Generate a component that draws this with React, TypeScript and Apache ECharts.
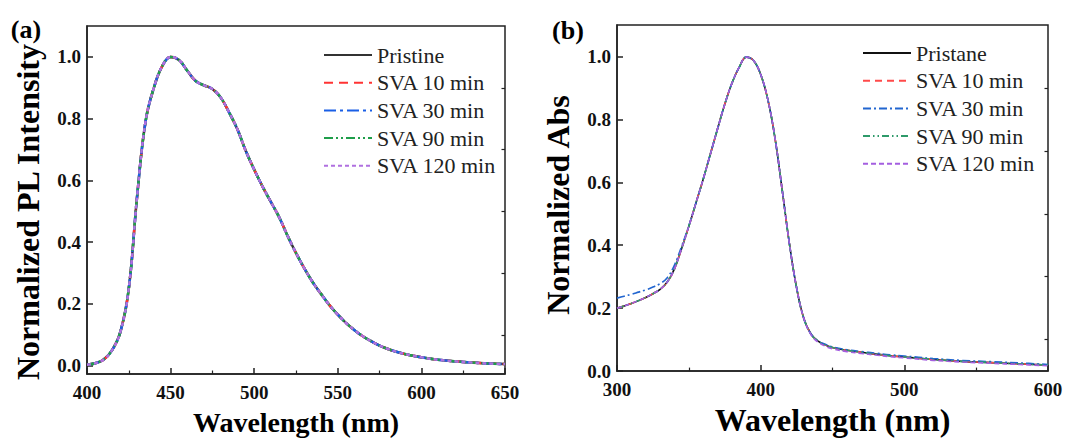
import React, { useEffect, useRef } from "react";
import * as echarts from "echarts";

// ---------- (a) PL spectra ----------
const plWavelength = [400, 405, 410, 415, 420, 425, 430, 435, 440, 445, 450, 455, 460, 465, 470, 475, 480, 485, 490, 495, 500, 505, 510, 515, 520, 525, 530, 535, 540, 545, 550, 555, 560, 565, 570, 575, 580, 585, 590, 595, 600, 610, 620, 630, 640, 650];
const plIntensity = [0.003, 0.008, 0.02, 0.05, 0.11, 0.25, 0.55, 0.79, 0.9, 0.97, 1.0, 0.99, 0.955, 0.922, 0.908, 0.896, 0.868, 0.82, 0.765, 0.695, 0.635, 0.58, 0.53, 0.48, 0.42, 0.365, 0.315, 0.27, 0.232, 0.196, 0.165, 0.138, 0.115, 0.095, 0.079, 0.065, 0.054, 0.045, 0.038, 0.032, 0.027, 0.019, 0.014, 0.01, 0.007, 0.005];
// all annealing times overlap the pristine film within reading accuracy
const plPristine = plIntensity;
const plSva10 = plIntensity;
const plSva30 = plIntensity;
const plSva90 = plIntensity;
const plSva120 = plIntensity;

// ---------- (b) absorption spectra ----------
const absWavelength = [300, 305, 310, 315, 320, 325, 330, 335, 340, 345, 350, 355, 360, 365, 370, 375, 380, 385, 390, 395, 400, 405, 410, 415, 420, 425, 430, 435, 440, 445, 450, 460, 470, 480, 490, 500, 520, 540, 560, 580, 600];
const absPristine = [0.2, 0.207, 0.215, 0.224, 0.234, 0.246, 0.26, 0.283, 0.325, 0.39, 0.46, 0.535, 0.61, 0.69, 0.77, 0.848, 0.915, 0.965, 0.998, 0.987, 0.943, 0.863, 0.74, 0.575, 0.405, 0.265, 0.168, 0.118, 0.095, 0.083, 0.075, 0.066, 0.06, 0.054, 0.049, 0.045, 0.037, 0.031, 0.027, 0.023, 0.019];
const absSva10 = absPristine;
const absSva30 = [0.232, 0.238, 0.244, 0.251, 0.258, 0.267, 0.278, 0.297, 0.337, 0.397, 0.462, 0.535, 0.61, 0.69, 0.77, 0.848, 0.915, 0.965, 0.998, 0.987, 0.943, 0.863, 0.74, 0.575, 0.405, 0.265, 0.168, 0.118, 0.096, 0.085, 0.077, 0.068, 0.062, 0.057, 0.052, 0.048, 0.04, 0.034, 0.03, 0.026, 0.021];
const absSva90 = absPristine;
const absSva120 = [0.2, 0.207, 0.215, 0.224, 0.234, 0.246, 0.26, 0.283, 0.325, 0.39, 0.46, 0.535, 0.61, 0.69, 0.77, 0.848, 0.915, 0.965, 0.998, 0.987, 0.943, 0.863, 0.74, 0.575, 0.405, 0.265, 0.168, 0.116, 0.092, 0.079, 0.071, 0.062, 0.056, 0.051, 0.046, 0.042, 0.034, 0.029, 0.025, 0.021, 0.017];

// ---------- names & ticks ----------
const plNames = ["Pristine", "SVA 10 min", "SVA 30 min", "SVA 90 min", "SVA 120 min"];
const absNames = ["Pristane", "SVA 10 min", "SVA 30 min", "SVA 90 min", "SVA 120 min"];
const yMajorTicks = [0, 0.2, 0.4, 0.6, 0.8, 1.0];
const yMinorTicks = [0.1, 0.3, 0.5, 0.7, 0.9];
const xTitle = "Wavelength (nm)";
const plYTitle = "Normalized PL Intensity";
const absYTitle = "Normalized Abs";

const SERIF = "'Liberation Serif','Times New Roman',serif";
const B_SUFFIX = " (b)";

const plStyles = [
  { color: "#333333", type: "solid" as any },
  { color: "#ff3333", type: [9, 6] },
  { color: "#1a5fe6", type: [12, 4, 3, 4] },
  { color: "#1f9e4a", type: [9, 3, 2, 3, 2, 3] },
  { color: "#b070e0", type: [4, 3] },
];
const absStyles = [
  { color: "#111111", type: "solid" as any },
  { color: "#ff4a4a", type: [7, 5] },
  { color: "#2266d0", type: [8, 3, 2, 3] },
  { color: "#2e9a6a", type: [7, 3, 1.5, 3, 1.5, 3] },
  { color: "#a45ee0", type: [5, 3] },
];

function pairs(xs: number[], ys: number[]) {
  return xs.map((x, i) => [x, ys[i]]);
}

export default function App() {
  const ref = useRef<HTMLDivElement>(null);

  useEffect(() => {
    if (!ref.current) return;
    const chart = echarts.init(ref.current, undefined, { renderer: "svg" });

    const plData = [plPristine, plSva10, plSva30, plSva90, plSva120];
    const absData = [absPristine, absSva10, absSva30, absSva90, absSva120];

    const axisLine = { show: true, onZero: false, lineStyle: { color: "#222", width: 1.5 } };
    const tickLabel = { fontFamily: SERIF, fontWeight: "bold" as any, fontSize: 19, color: "#111" };

    const makeY = (gridIndex: number, min: number, max: number) => [
      {
        type: "value",
        gridIndex,
        min,
        max,
        axisLine,
        splitLine: { show: false },
        axisTick: { show: true, inside: true, length: 6, lineStyle: { color: "#222", width: 1.5 }, customValues: yMajorTicks },
        axisLabel: { ...tickLabel, margin: 6, customValues: yMajorTicks, formatter: (v: number) => v.toFixed(1) },
      },
      {
        type: "value",
        gridIndex,
        min,
        max,
        axisLine: { show: false, onZero: false },
        splitLine: { show: false },
        axisTick: { show: true, inside: true, length: 3.5, lineStyle: { color: "#222", width: 1.2 }, customValues: yMinorTicks },
        axisLabel: { show: false },
      },
    ];

    const makeX = (gridIndex: number, min: number, max: number, interval: number, nameGap: number, nameSize: number) => ({
      type: "value",
      gridIndex,
      min,
      max,
      interval,
      axisLine,
      splitLine: { show: false },
      axisTick: { show: true, inside: true, length: 6, lineStyle: { color: "#222", width: 1.5 } },
      minorTick: { show: true, splitNumber: 2, length: 3.5, lineStyle: { color: "#222", width: 1.2 } },
      minorSplitLine: { show: false },
      axisLabel: { ...tickLabel, margin: 9 },
      name: xTitle,
      nameLocation: "middle",
      nameGap,
      nameTextStyle: { fontFamily: SERIF, fontWeight: "bold", fontSize: nameSize, color: "#000" },
    });

    const series: any[] = [];
    plNames.forEach((name, i) => {
      series.push({
        type: "line",
        name,
        xAxisIndex: 0,
        yAxisIndex: 0,
        data: pairs(plWavelength, plData[i]),
        symbol: "none",
        smooth: 0.4,
        lineStyle: { color: plStyles[i].color, type: plStyles[i].type, width: 2.5 },
        itemStyle: { color: plStyles[i].color },
        z: 2 + i,
      });
    });
    absNames.forEach((name, i) => {
      series.push({
        type: "line",
        name: name + B_SUFFIX,
        xAxisIndex: 1,
        yAxisIndex: 2,
        data: pairs(absWavelength, absData[i]),
        symbol: "none",
        smooth: 0.4,
        lineStyle: { color: absStyles[i].color, type: absStyles[i].type, width: 1.6 },
        itemStyle: { color: absStyles[i].color },
        z: 2 + i,
      });
    });

    const legendText = { fontFamily: SERIF, fontSize: 22, color: "#222", lineHeight: 21 };
    const legendBase = {
      orient: "vertical",
      padding: 0,
      itemWidth: 48,
      itemHeight: 14,
      itemGap: 5.7,
      textStyle: legendText,
      itemStyle: { opacity: 0 },
      selectedMode: false,
    };

    chart.setOption({
      animation: false,
      backgroundColor: "#ffffff",
      grid: [
        { left: 87, top: 26, width: 418, height: 349, show: true, borderColor: "#222", borderWidth: 1.5, backgroundColor: "transparent" },
        { left: 617, top: 25, width: 431, height: 352, show: true, borderColor: "#222", borderWidth: 1.5, backgroundColor: "transparent" },
      ],
      xAxis: [makeX(0, 400, 650, 50, 34, 28), makeX(1, 300, 600, 100, 29, 32)],
      yAxis: [...makeY(0, -0.027, 1.1), ...makeY(1, 0, 1.1)],
      legend: [
        { ...legendBase, left: 323, top: 44, data: plNames },
        {
          ...legendBase,
          left: 862,
          top: 42,
          data: absNames.map((n) => n + B_SUFFIX),
          formatter: (n: string) => n.replace(B_SUFFIX, ""),
        },
      ],
      graphic: [
        { type: "text", x: 26, y: 29, style: { text: "(a)", font: `bold 26px ${SERIF}`, fill: "#000", align: "center", verticalAlign: "middle", textAlign: "center", textVerticalAlign: "middle" } },
        { type: "text", x: 568, y: 30, style: { text: "(b)", font: `bold 26px ${SERIF}`, fill: "#000", align: "center", verticalAlign: "middle", textAlign: "center", textVerticalAlign: "middle" } },
        { type: "text", x: 28, y: 212, rotation: Math.PI / 2, style: { text: plYTitle, font: `bold 32px ${SERIF}`, fill: "#000", align: "center", verticalAlign: "middle", textAlign: "center", textVerticalAlign: "middle" } },
        { type: "text", x: 558, y: 205, rotation: Math.PI / 2, style: { text: absYTitle, font: `bold 32px ${SERIF}`, fill: "#000", align: "center", verticalAlign: "middle", textAlign: "center", textVerticalAlign: "middle" } },
      ],
      series,
    });

    return () => chart.dispose();
  }, []);

  return (
    <div
      ref={ref}
      style={{ position: "fixed", left: 0, top: 0, width: 1070, height: 441, background: "#fff" }}
    />
  );
}
